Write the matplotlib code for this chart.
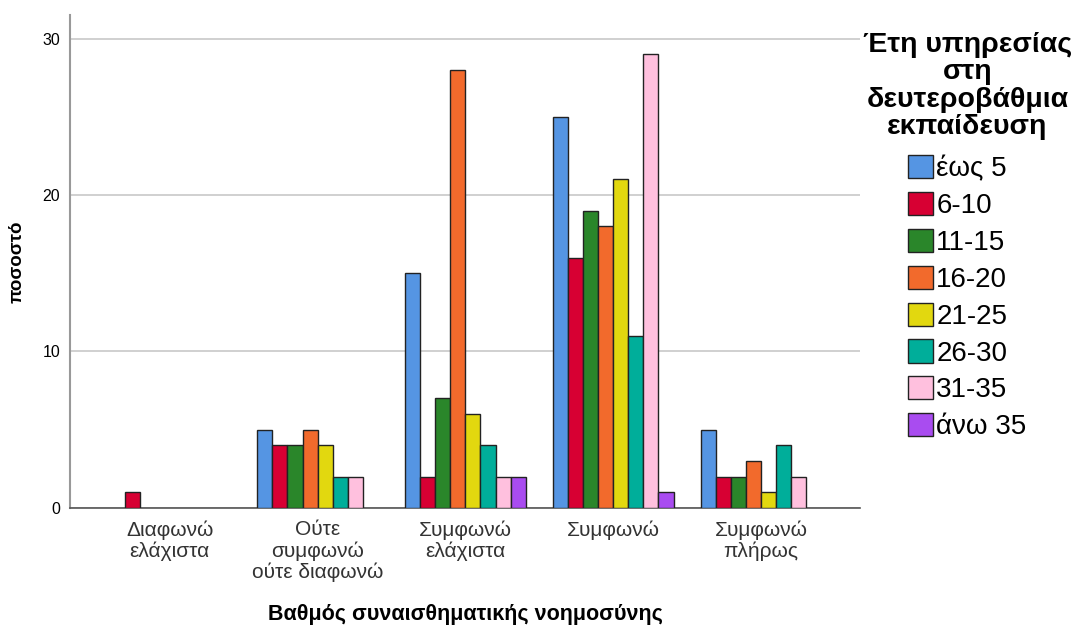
import matplotlib.pyplot as plt
import numpy as np

plt.rcParams['font.family'] = ['Liberation Sans', 'DejaVu Sans']

# κατηγορίες
categories = ['Διαφωνώ\nελάχιστα', 'Ούτε\nσυμφωνώ\nούτε διαφωνώ', 'Συμφωνώ\nελάχιστα',
              'Συμφωνώ', 'Συμφωνώ\nπλήρως']
groups = ['έως 5', '6-10', '11-15', '16-20', '21-25', '26-30', '31-35', 'άνω 35']

# ποσοστά ανά ομάδα ετών
eos_5 = [0, 5, 15, 25, 5]
g_6_10 = [1, 4, 2, 16, 2]
g_11_15 = [0, 4, 7, 19, 2]
g_16_20 = [0, 5, 28, 18, 3]
g_21_25 = [0, 4, 6, 21, 1]
g_26_30 = [0, 2, 4, 11, 4]
g_31_35 = [0, 2, 2, 29, 2]
ano_35 = [0, 0, 2, 1, 0]
series = [eos_5, g_6_10, g_11_15, g_16_20, g_21_25, g_26_30, g_31_35, ano_35]

colors = ['#5595e3', '#d70033', '#2a862a', '#f26a2c', '#e2d80f', '#00ae9a', '#ffc0de', '#a94cf0']

fig = plt.figure(figsize=(10.81, 6.27), dpi=100)
ax = fig.add_axes([0.0648, 0.19, 0.7308, 0.786])

x = np.arange(len(categories))
w = 0.102
for i, (vals, c, lab) in enumerate(zip(series, colors, groups)):
    vals = np.array(vals, dtype=float)
    pos = x - 4 * w + (i + 0.5) * w
    m = vals > 0  # μηδενικές τιμές δεν σχεδιάζονται
    ax.bar(pos[m], vals[m], width=w, color=c, edgecolor='#222222', linewidth=1.0,
           label=lab, zorder=3)

ax.set_xlim(-0.675, 4.67)
ax.set_ylim(0, 31.5)
ax.set_yticks([0, 10, 20, 30])
ax.set_xticks(x)
ax.set_xticklabels(categories, fontsize=15, color='#333333', linespacing=1.12)
ax.tick_params(axis='y', labelsize=11.5, length=0, pad=7)
ax.tick_params(axis='x', length=0, pad=9)
ax.yaxis.grid(True, color='#c8c8c8', linewidth=1.2, zorder=0)

for s in ['top', 'right']:
    ax.spines[s].set_visible(False)
ax.spines['left'].set_color('#999999')
ax.spines['left'].set_linewidth(1.5)
ax.spines['bottom'].set_color('#555555')
ax.spines['bottom'].set_linewidth(1.2)

ax.set_xlabel('Βαθμός συναισθηματικής νοημοσύνης', fontsize=15.5, fontweight='bold', labelpad=16)
ax.set_ylabel('ποσοστό', fontsize=13.5, fontweight='bold', labelpad=12)

# υπόμνημα
handles, labels = ax.get_legend_handles_labels()
leg = fig.legend(handles, labels, loc='upper center', bbox_to_anchor=(0.895, 0.967),
                 title='Έτη υπηρεσίας\nστη\nδευτεροβάθμια\nεκπαίδευση',
                 title_fontproperties={'size': 20.5, 'weight': 'bold'},
                 fontsize=20, frameon=False, handlelength=0.9, handleheight=0.9,
                 handletextpad=0.1, labelspacing=0.35, borderaxespad=0)
leg.get_title().set_multialignment('center')
leg.get_title().set_linespacing(1.07)
leg._legend_box.sep = 11

fig.savefig('out.png', dpi=100)
